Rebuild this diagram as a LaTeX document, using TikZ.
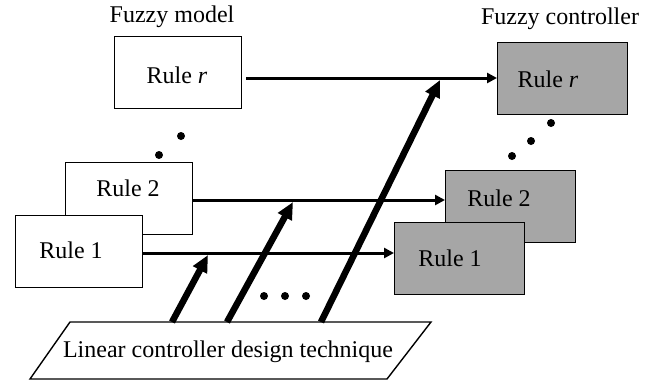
\documentclass[tikz,border=0pt]{standalone}
\usepackage{fontspec}
\setmainfont{Liberation Serif}
\usetikzlibrary{arrows.meta}
\begin{document}
\begin{tikzpicture}[x=1pt,y=-1pt,
  every node/.style={font=\fontsize{24}{28}\selectfont},
  mbox/.style={draw,line width=1.4pt,fill=white,minimum width=127pt,minimum height=72pt,inner sep=0pt,anchor=north west},
  cbox/.style={draw,line width=1.4pt,fill=black!35,minimum width=130pt,minimum height=72pt,inner sep=0pt,anchor=north west},
  txt/.style={inner sep=0pt},
  hline/.style={line width=3pt,-{Triangle[length=10pt,width=10pt]}},
  bigarrow/.style={line width=6.5pt,-{Triangle[length=17pt,width=15pt]}},
  dot/.style={fill=black,radius=4pt}]
\useasboundingbox (0,0) rectangle (664,384);

% fuzzy model
\node[txt] (fm) at (172,17) {Fuzzy model};
\node[mbox] (mr) at (114,36) {};
\node[txt] (tmr) at (177,75) {Rule \textit{r}};
\node[mbox] (m2) at (65,162) {};
\node[txt] (tm2) at (128,188) {Rule 2};
\node[mbox] (m1) at (15,215) {};
\node[txt] (tm1) at (71,250) {Rule 1};
\fill[dot] (181,136) circle;
\fill[dot] (159,155) circle;

% fuzzy controller
\node[txt] (fc) at (560,19) {Fuzzy controller};
\node[cbox] (cr) at (497,42) {};
\node[txt] (tcr) at (548,79) {Rule \textit{r}};
\node[cbox] (c2) at (445,170) {};
\node[txt] (tc2) at (499,198) {Rule 2};
\node[cbox] (c1) at (394,222) {};
\node[txt] (tc1) at (450,258) {Rule 1};
\fill[dot] (551,123) circle;
\fill[dot] (531,141) circle;
\fill[dot] (512,156) circle;

% horizontal connectors
\draw[hline,shorten <=4pt] (mr.east |- 0,78) -- (cr.west |- 0,78);
\draw[hline] (m2.east |- 0,200) -- (c2.west |- 0,200);
\draw[hline] (m1.east |- 0,253) -- (c1.west |- 0,253);

% design technique
\draw[line width=1.4pt,fill=white] (70,322) coordinate (p1) -- (431,322) coordinate (p2)
  -- (387,379) coordinate (p3) -- (30,379) coordinate (p4) -- cycle;
\node[txt] (ld) at (228,352) {Linear controller design technique};

\coordinate (b1) at (172,322);
\coordinate (b2) at (227,322);
\coordinate (b3) at (321,322);
\coordinate (t1) at (208,255);
\coordinate (t2) at (293,202);
\coordinate (t3) at (440,80);
\draw[bigarrow] (b1) -- (t1);
\draw[bigarrow] (b2) -- (t2);
\draw[bigarrow] (b3) -- (t3);

\fill[dot] (264,296) circle;
\fill[dot] (285,296) circle;
\fill[dot] (306,296) circle;
\end{tikzpicture}
\end{document}
